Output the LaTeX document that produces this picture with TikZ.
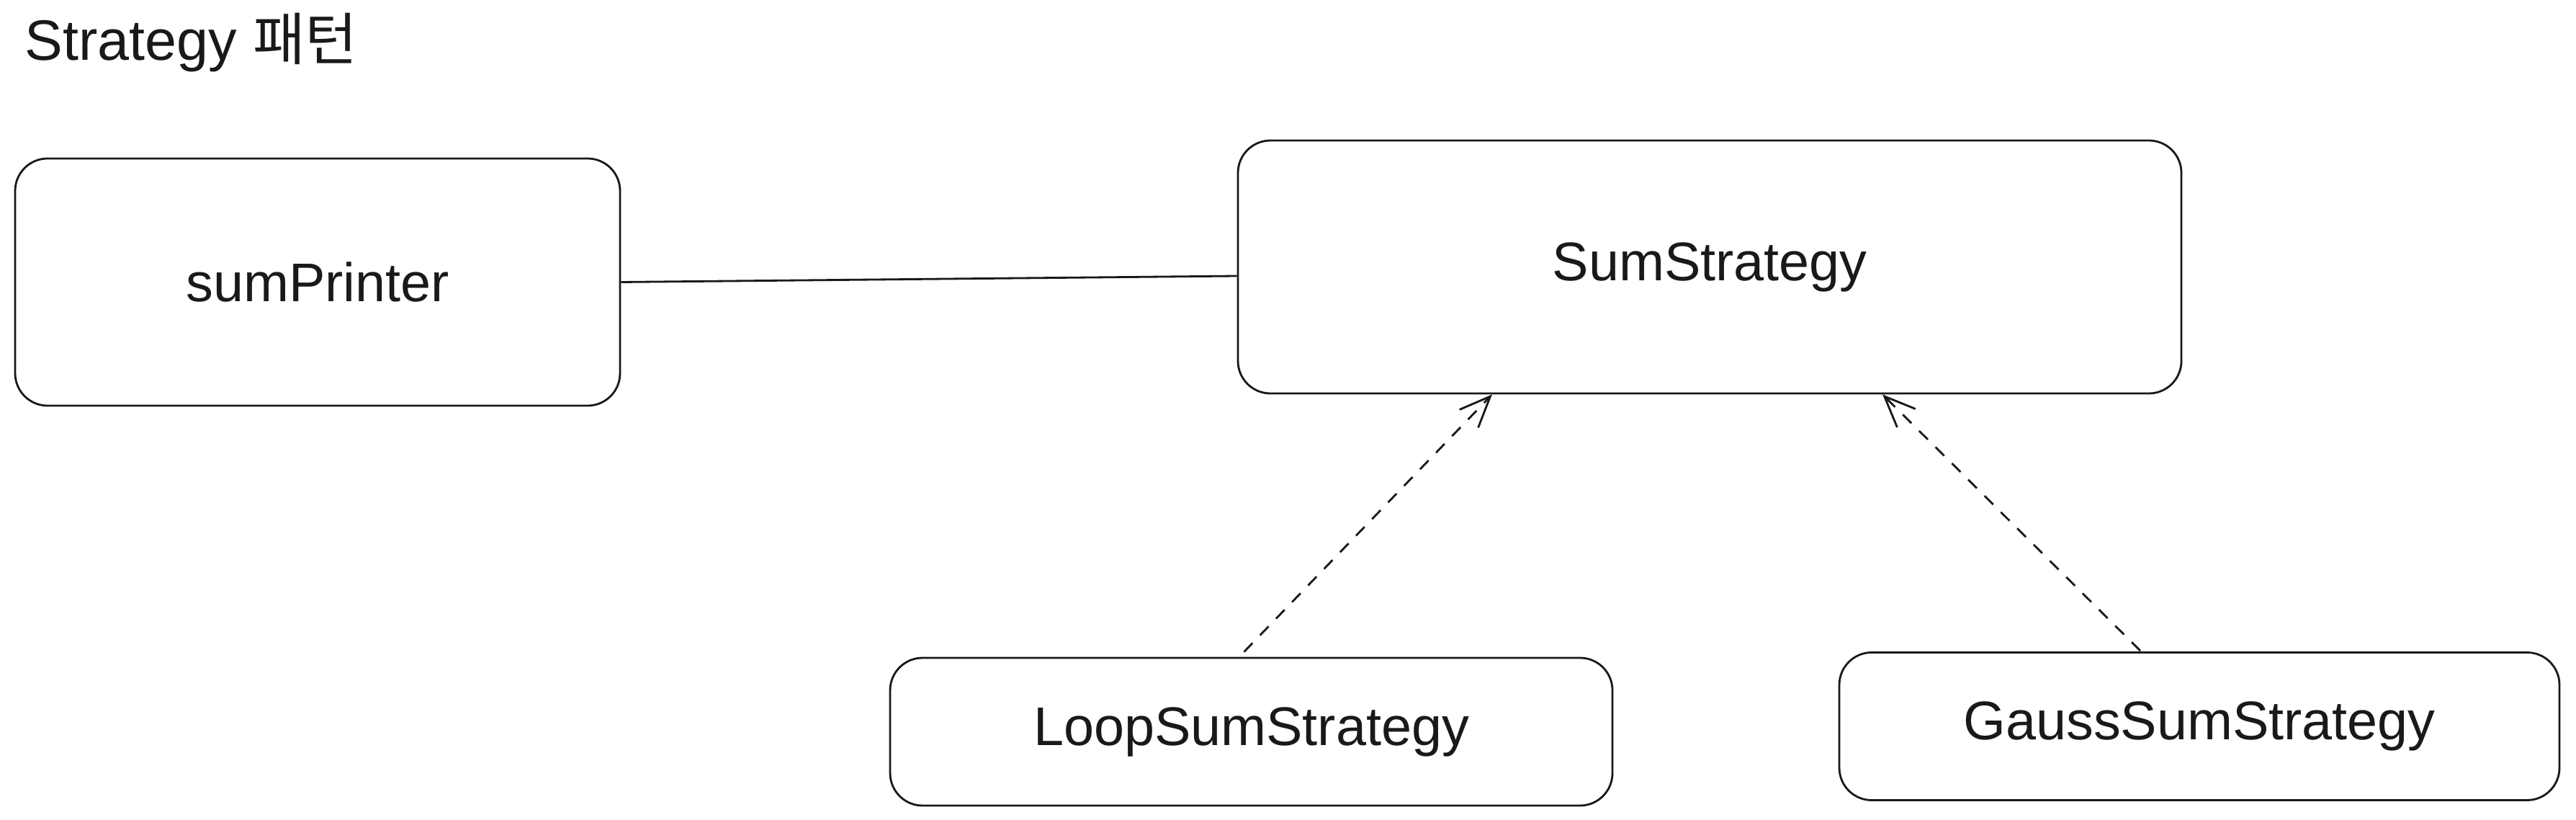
\documentclass[tikz,border=0pt]{standalone}
\usepackage{fontspec}
\setmainfont{Liberation Sans}
\newfontfamily\krfont{Noto Sans CJK KR}
\usetikzlibrary{arrows.meta,calc}
\begin{document}
\begin{tikzpicture}[
  x=1cm,y=1cm,
  box/.style={draw=black!90, line width=0.8pt, rounded corners=0.45cm, inner sep=0pt,
    font=\fontsize{21.5}{26}\selectfont, text=black!90},
  dep/.style={draw=black!90, line width=0.8pt, dash pattern=on 0.17cm off 0.15cm,
    -{Straight Barb[length=0.43cm,width=0.36cm,line width=0.8pt]}},
  assoc/.style={draw=black!90, line width=0.8pt}
]
\useasboundingbox (0,0) rectangle (35.77,-11.38);
\fill[white] (0,0) rectangle (35.77,-11.38);

\node[anchor=base west, inner sep=0pt, font=\fontsize{22.5}{27}\selectfont, text=black!90] (title) at (0.34,-0.84) {Strategy {\krfont 패턴}};

\node[box, minimum width=8.40cm, minimum height=3.43cm] (printer) at (4.41,-3.915) {sumPrinter};
\node[box, minimum width=13.10cm, minimum height=3.51cm] (sum) at (23.74,-3.705) {SumStrategy};
\node[box, minimum width=10.03cm, minimum height=2.05cm] (loop) at (17.375,-10.155) {LoopSumStrategy};
\node[box, minimum width=10.00cm, minimum height=2.05cm] (gauss) at (30.54,-10.08) {GaussSumStrategy};

\draw[assoc] (printer.east) -- ($(sum.west)+(0,-0.125)$);

\coordinate (l1) at ($(loop.north)+(-0.10,0.07)$);
\coordinate (l2) at ($(sum.south)+(-3.02,0)$);
\coordinate (g1) at ($(gauss.north)+(-0.82,0.01)$);
\coordinate (g2) at ($(sum.south)+(2.40,0)$);
\draw[dep] (l1) -- (l2);
\draw[dep] (g1) -- (g2);
\end{tikzpicture}
\end{document}
